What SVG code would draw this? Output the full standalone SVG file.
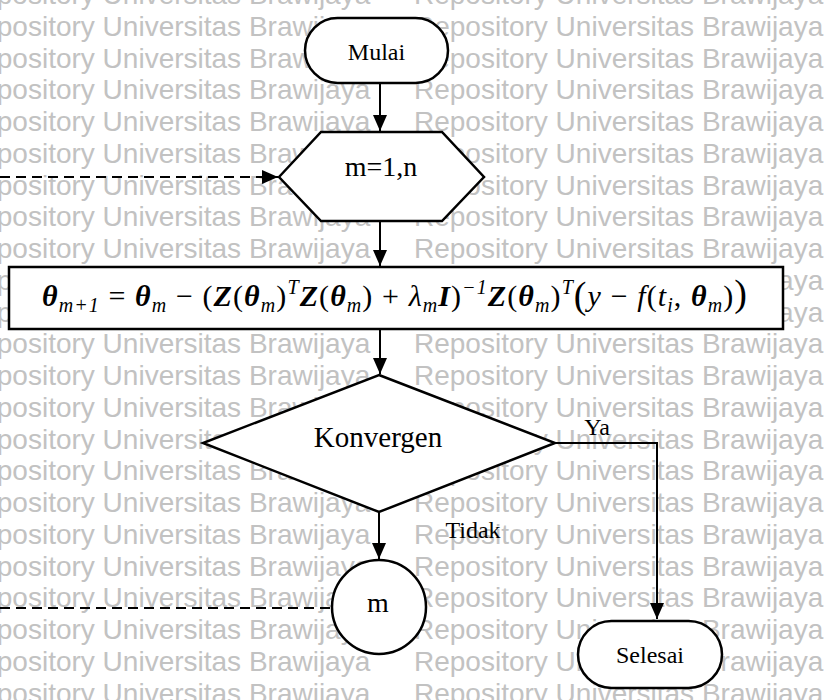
<svg xmlns="http://www.w3.org/2000/svg" width="830" height="700" viewBox="0 0 830 700">
<defs>
<style>
.wm{font-family:"Liberation Sans",Arial,sans-serif;font-size:28px;fill:#c2c2c2}
.node{fill:#fff;stroke:#000;stroke-width:2.5}
.lbl{font-family:"Liberation Serif","Times New Roman",serif;fill:#000;text-anchor:middle}
.edge{fill:none;stroke:#000;stroke-width:2}
.dash{stroke-dasharray:10 6}
.math{font-family:"Liberation Serif","Times New Roman",serif;font-size:30px;fill:#000}
.bi{font-weight:bold;font-style:italic}
.it{font-style:italic}
.sub{font-size:20px;font-style:italic}
.big{font-size:38px}
</style>
<marker id="ah" markerUnits="userSpaceOnUse" markerWidth="16" markerHeight="14" refX="16" refY="7" orient="auto">
<path d="M0,0 L16,7 L0,14 Z" fill="#000"/>
</marker>
</defs>
<rect width="830" height="700" fill="#fff"/>
<g id="watermark">
<text class="wm" y="4"><tspan x="-39">Repository Universitas Brawijaya</tspan><tspan x="414">Repository Universitas Brawijaya</tspan></text>
<text class="wm" y="35.75"><tspan x="-39">Repository Universitas Brawijaya</tspan><tspan x="414">Repository Universitas Brawijaya</tspan></text>
<text class="wm" y="67.5"><tspan x="-39">Repository Universitas Brawijaya</tspan><tspan x="414">Repository Universitas Brawijaya</tspan></text>
<text class="wm" y="99.25"><tspan x="-39">Repository Universitas Brawijaya</tspan><tspan x="414">Repository Universitas Brawijaya</tspan></text>
<text class="wm" y="131"><tspan x="-39">Repository Universitas Brawijaya</tspan><tspan x="414">Repository Universitas Brawijaya</tspan></text>
<text class="wm" y="162.75"><tspan x="-39">Repository Universitas Brawijaya</tspan><tspan x="414">Repository Universitas Brawijaya</tspan></text>
<text class="wm" y="194.5"><tspan x="-39">Repository Universitas Brawijaya</tspan><tspan x="414">Repository Universitas Brawijaya</tspan></text>
<text class="wm" y="226.25"><tspan x="-39">Repository Universitas Brawijaya</tspan><tspan x="414">Repository Universitas Brawijaya</tspan></text>
<text class="wm" y="258"><tspan x="-39">Repository Universitas Brawijaya</tspan><tspan x="414">Repository Universitas Brawijaya</tspan></text>
<text class="wm" y="289.75"><tspan x="-39">Repository Universitas Brawijaya</tspan><tspan x="414">Repository Universitas Brawijaya</tspan></text>
<text class="wm" y="321.5"><tspan x="-39">Repository Universitas Brawijaya</tspan><tspan x="414">Repository Universitas Brawijaya</tspan></text>
<text class="wm" y="353.25"><tspan x="-39">Repository Universitas Brawijaya</tspan><tspan x="414">Repository Universitas Brawijaya</tspan></text>
<text class="wm" y="385"><tspan x="-39">Repository Universitas Brawijaya</tspan><tspan x="414">Repository Universitas Brawijaya</tspan></text>
<text class="wm" y="416.75"><tspan x="-39">Repository Universitas Brawijaya</tspan><tspan x="414">Repository Universitas Brawijaya</tspan></text>
<text class="wm" y="448.5"><tspan x="-39">Repository Universitas Brawijaya</tspan><tspan x="414">Repository Universitas Brawijaya</tspan></text>
<text class="wm" y="480.25"><tspan x="-39">Repository Universitas Brawijaya</tspan><tspan x="414">Repository Universitas Brawijaya</tspan></text>
<text class="wm" y="512"><tspan x="-39">Repository Universitas Brawijaya</tspan><tspan x="414">Repository Universitas Brawijaya</tspan></text>
<text class="wm" y="543.75"><tspan x="-39">Repository Universitas Brawijaya</tspan><tspan x="414">Repository Universitas Brawijaya</tspan></text>
<text class="wm" y="575.5"><tspan x="-39">Repository Universitas Brawijaya</tspan><tspan x="414">Repository Universitas Brawijaya</tspan></text>
<text class="wm" y="607.25"><tspan x="-39">Repository Universitas Brawijaya</tspan><tspan x="414">Repository Universitas Brawijaya</tspan></text>
<text class="wm" y="639"><tspan x="-39">Repository Universitas Brawijaya</tspan><tspan x="414">Repository Universitas Brawijaya</tspan></text>
<text class="wm" y="670.75"><tspan x="-39">Repository Universitas Brawijaya</tspan><tspan x="414">Repository Universitas Brawijaya</tspan></text>
<text class="wm" y="702.5"><tspan x="-39">Repository Universitas Brawijaya</tspan><tspan x="414">Repository Universitas Brawijaya</tspan></text>
</g>
<g id="connectors">
<path class="edge" d="M380,83 V131" marker-end="url(#ah)"/>
<path class="edge" d="M380,221 V266" marker-end="url(#ah)"/>
<path class="edge" d="M380,329 V374" marker-end="url(#ah)"/>
<path class="edge" d="M379,512 V559" marker-end="url(#ah)"/>
<path class="edge" d="M555,443 H657 V619" marker-end="url(#ah)"/>
<path class="edge dash" d="M0,177 H278" marker-end="url(#ah)"/>
<path class="edge dash" d="M0,608 H332"/>
<text class="lbl" x="597" y="435" font-size="24">Ya</text>
<text class="lbl" x="473" y="538" font-size="24">Tidak</text>
</g>
<g id="mulai">
<rect class="node" x="305" y="18" width="143" height="65" rx="32.5"/>
<text class="lbl" x="376.5" y="60" font-size="24">Mulai</text>
</g>
<g id="loop">
<polygon class="node" points="279,177 321,132 442,132 484,177 442,221 321,221"/>
<text class="lbl" x="381" y="176" font-size="28">m=1,n</text>
</g>
<g id="update">
<rect class="node" x="9" y="267" width="774" height="62"/>
<text class="math" x="42" y="306" textLength="705" lengthAdjust="spacing"><tspan class="bi">θ</tspan><tspan class="sub" dy="6">m+1</tspan><tspan dy="-6"> = </tspan><tspan class="bi">θ</tspan><tspan class="sub" dy="6">m</tspan><tspan dy="-6"> − (</tspan><tspan class="bi">Z</tspan>(<tspan class="bi">θ</tspan><tspan class="sub" dy="6">m</tspan><tspan dy="-6">)</tspan><tspan class="sub" dy="-12">T</tspan><tspan class="bi" dy="12">Z</tspan>(<tspan class="bi">θ</tspan><tspan class="sub" dy="6">m</tspan><tspan dy="-6">) + </tspan><tspan class="it">λ</tspan><tspan class="sub" dy="6">m</tspan><tspan class="bi" dy="-6">I</tspan>)<tspan class="sub" dy="-12" font-style="normal">−1</tspan><tspan class="bi" dy="12">Z</tspan>(<tspan class="bi">θ</tspan><tspan class="sub" dy="6">m</tspan><tspan dy="-6">)</tspan><tspan class="sub" dy="-12">T</tspan><tspan class="big" dy="14">(</tspan><tspan class="it" dy="-2">y</tspan><tspan> − </tspan><tspan class="it">f</tspan>(<tspan class="it">t</tspan><tspan class="sub" dy="6">i</tspan><tspan dy="-6">, </tspan><tspan class="bi">θ</tspan><tspan class="sub" dy="6">m</tspan><tspan dy="-6">)</tspan><tspan class="big">)</tspan></text>
</g>
<g id="konvergen">
<polygon class="node" points="379,375 555,443 379,512 203,443"/>
<text class="lbl" x="378" y="447" font-size="29">Konvergen</text>
</g>
<g id="connector-m">
<circle class="node" cx="379" cy="607" r="47"/>
<text class="lbl" x="378" y="612" font-size="28">m</text>
</g>
<g id="selesai">
<rect class="node" x="578" y="621" width="144" height="67" rx="33.5"/>
<text class="lbl" x="650" y="663" font-size="24">Selesai</text>
</g>
</svg>
